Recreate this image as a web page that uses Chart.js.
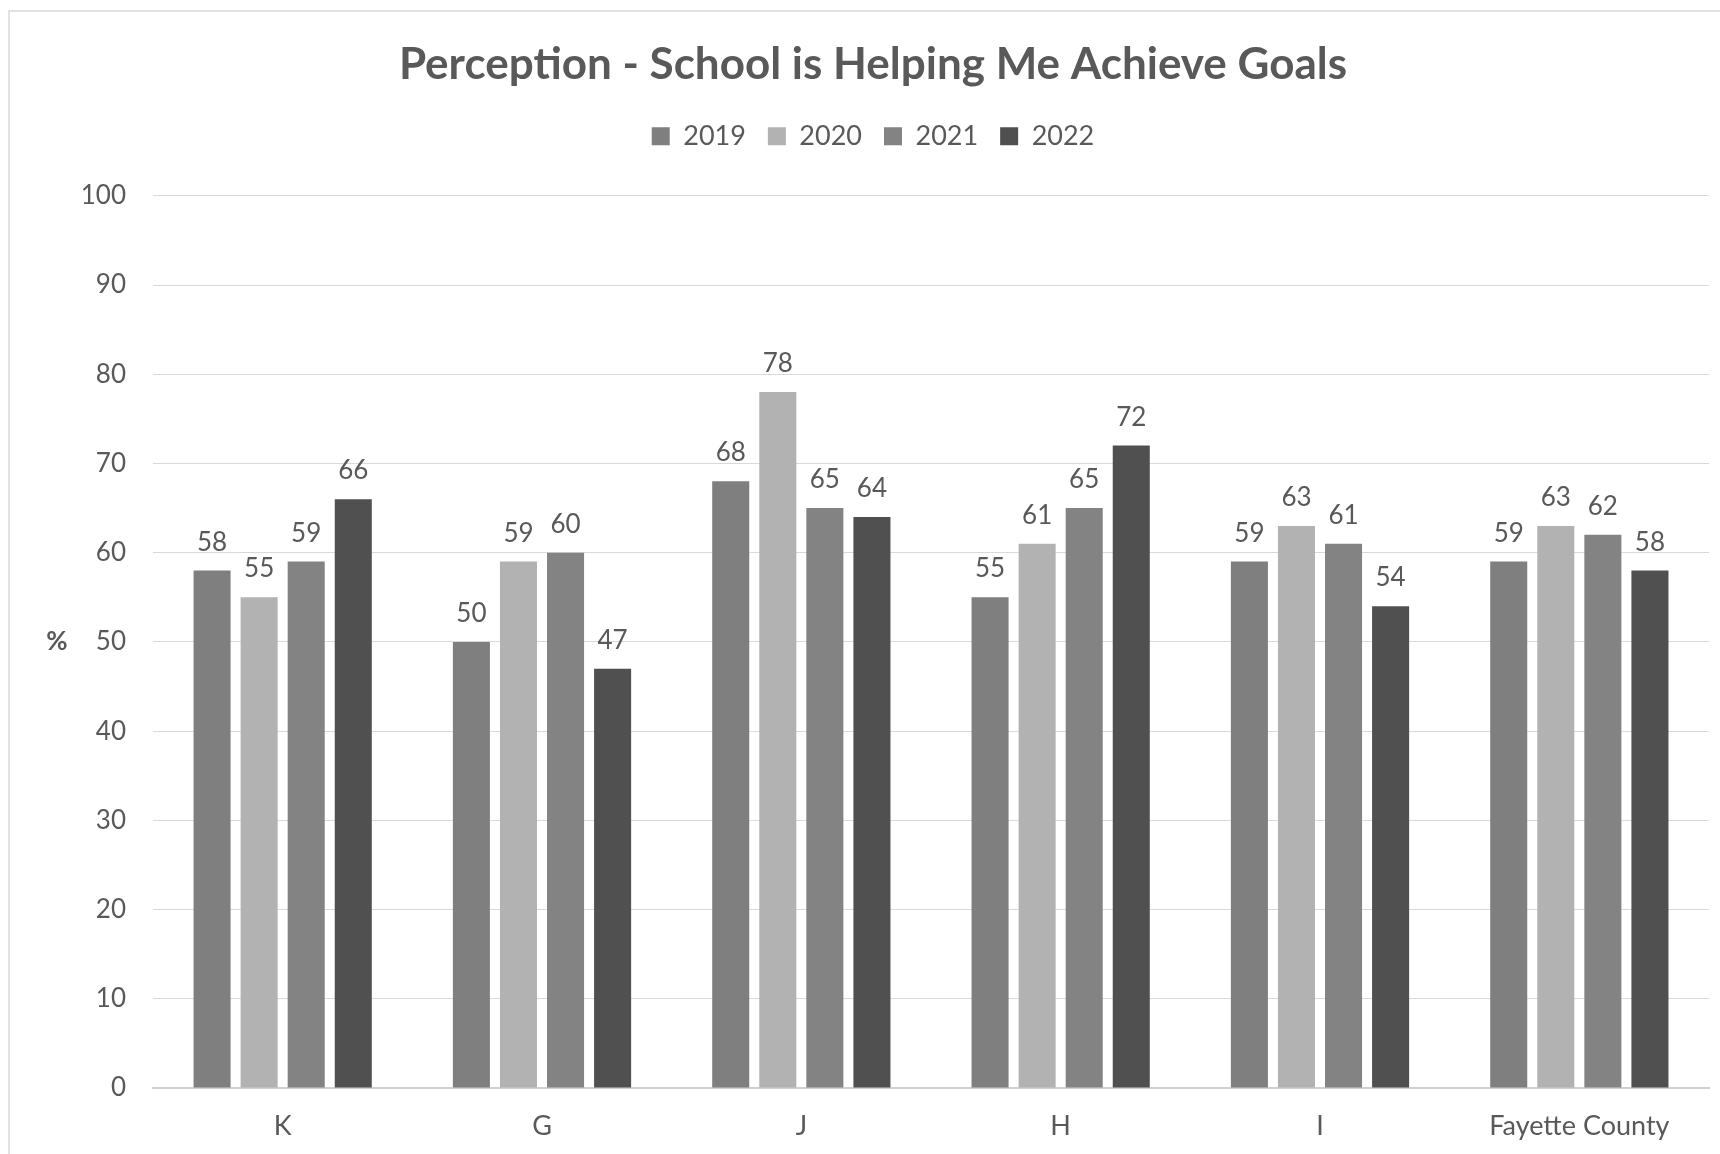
<!DOCTYPE html>
<html>
<head>
<meta charset="utf-8">
<title>Perception - School is Helping Me Achieve Goals</title>
<script src="https://cdn.jsdelivr.net/npm/chart.js@4/dist/chart.umd.min.js"></script>
<style>
  html, body { margin: 0; padding: 0; background: #fff; }
  #wrap { width: 1720px; height: 1154px; }
</style>
</head>
<body>
<div id="wrap"><canvas id="goalsChart" width="1720" height="1154"></canvas></div>
<script>
// school groups along the x axis
const categories = ['K', 'G', 'J', 'H', 'I', 'Fayette County'];
const years = ['2019', '2020', '2021', '2022'];

// percent agreeing, one array per survey year
const values2019 = [58, 50, 68, 55, 59, 59];
const values2020 = [55, 59, 78, 61, 63, 63];
const values2021 = [59, 60, 65, 65, 61, 62];
const values2022 = [66, 47, 64, 72, 54, 58];

const yearColors = ['#7f7f7f', '#b2b2b2', '#838383', '#505050'];
const textColor = '#595959';
const fontFamily = 'Lato, "Open Sans", sans-serif';

const seriesValues = [values2019, values2020, values2021, values2022];

// light frame around the chart
const framePlugin = {
    id: 'frame',
    beforeDraw: function (chart) {
        const ctx = chart.ctx;
        ctx.save();
        ctx.fillStyle = '#fff';
        ctx.fillRect(0, 0, chart.width, chart.height);
        ctx.strokeStyle = '#d9d9d9';
        ctx.lineWidth = 1.5;
        ctx.beginPath();
        ctx.moveTo(9, chart.height);
        ctx.lineTo(9, 11);
        ctx.lineTo(chart.width, 11);
        ctx.stroke();
        ctx.restore();
    }
};

// value above each bar
const valueLabels = {
    id: 'valueLabels',
    afterDatasetsDraw: function (chart) {
        const ctx = chart.ctx;
        ctx.save();
        ctx.font = '26px ' + fontFamily;
        ctx.fillStyle = textColor;
        ctx.textAlign = 'center';
        ctx.textBaseline = 'alphabetic';
        chart.data.datasets.forEach(function (ds, i) {
            chart.getDatasetMeta(i).data.forEach(function (bar, j) {
                ctx.fillText(String(ds.data[j]), bar.x, bar.y - 20);
            });
        });
        ctx.restore();
    }
};

// horizontal "%" axis caption
const percentCaption = {
    id: 'percentCaption',
    afterDraw: function (chart) {
        const area = chart.chartArea;
        const ctx = chart.ctx;
        ctx.save();
        ctx.font = 'bold 26px ' + fontFamily;
        ctx.fillStyle = textColor;
        ctx.textAlign = 'center';
        ctx.textBaseline = 'middle';
        ctx.fillText('%', 57, (area.top + area.bottom) / 2);
        ctx.restore();
    }
};

// extra room between the legend and the plot
const legendGap = {
    id: 'legendGap',
    beforeInit: function (chart) {
        const origFit = chart.legend.fit;
        chart.legend.fit = function () {
            origFit.bind(chart.legend)();
            this.height += 36;
        };
    }
};

new Chart(document.getElementById('goalsChart'), {
    type: 'bar',
    data: {
        labels: categories,
        datasets: years.map(function (y, i) {
            return {
                label: y,
                data: seriesValues[i],
                backgroundColor: yearColors[i],
                borderWidth: 0,
                categoryPercentage: 0.726,
                barPercentage: 0.787
            };
        })
    },
    options: {
        responsive: false,
        animation: false,
        devicePixelRatio: 1,
        layout: { padding: { top: 11, left: 37, right: 11, bottom: 13 } },
        scales: {
            x: {
                grid: { display: false, drawTicks: false },
                border: { display: true, color: '#d0d0d0', width: 2 },
                ticks: { color: textColor, font: { family: fontFamily, size: 27 }, padding: 22, maxRotation: 0 },
                afterFit: function (axis) { axis.height = 53; }
            },
            y: {
                min: 0, max: 100,
                grid: { color: '#d9d9d9', lineWidth: 1, drawTicks: false },
                border: { display: false },
                ticks: { stepSize: 10, color: textColor, font: { family: fontFamily, size: 26 }, padding: 27 },
                afterFit: function (axis) { axis.width = 116; }
            }
        },
        plugins: {
            title: {
                display: true,
                text: 'Perception - School is Helping Me Achieve Goals',
                color: textColor,
                font: { family: fontFamily, size: 44, weight: 'bold' },
                padding: { top: 27, bottom: 10 }
            },
            legend: {
                position: 'top',
                labels: {
                    color: textColor,
                    font: { family: fontFamily, size: 27 },
                    boxWidth: 18, boxHeight: 18,
                    padding: 22
                }
            },
            tooltip: { enabled: false }
        }
    },
    plugins: [framePlugin, valueLabels, percentCaption, legendGap]
});
</script>
</body>
</html>
